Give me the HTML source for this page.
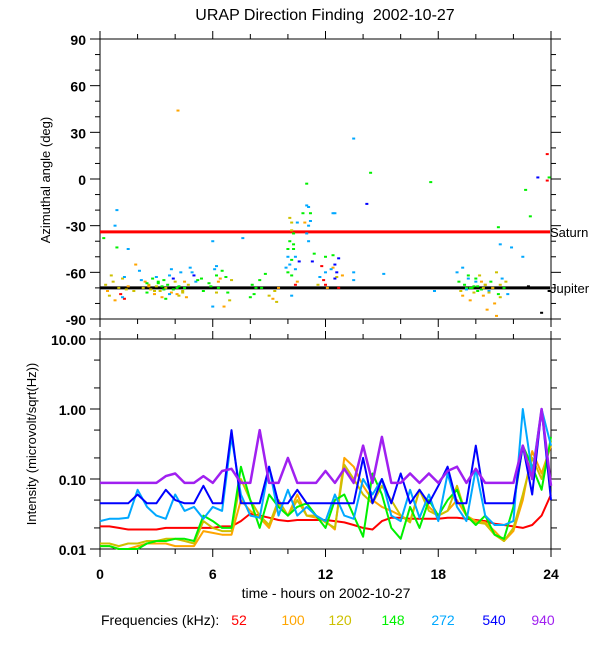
<!DOCTYPE html>
<html><head><meta charset="utf-8"><style>
body{margin:0;background:#fff;}
svg{display:block;font-family:"Liberation Sans",sans-serif;}
</style></head><body>
<svg id="chart" width="600" height="650" xmlns="http://www.w3.org/2000/svg">
<rect width="600" height="650" fill="#fff"/>
<text x="325" y="20" font-size="16" text-anchor="middle">URAP Direction Finding &#160;2002-10-27</text>
<g id="topPanel"></g><g id="botPanel"></g>
</svg>
<script>
const colors=["#ff0000","#ffa500","#cdc000","#00f000","#00a8ff","#0000ff","#a020f0"];
const freqLabels=["52","100","120","148","272","540","940"];
const angleTicks=[90,60,30,0,-30,-60,-90];
const intTicks=[10,1,0.1,0.01];
const intTickLabels=["10.00","1.00","0.10","0.01"];
const hourTicks=[0,6,12,18,24];
const saturnAngle=-34, jupiterAngle=-70;
// scatter points: time (h), angle (deg), frequency index
const ptT=[0.3,0.4,0.5,0.6,0.7,0.8,1.0,1.1,1.2,1.3,1.4,1.5,0.2,0.9,0.9,0.8,1.5,1.3,1.2,1.9,2.1,2.2,1.8,
2.3,2.4,2.5,2.6,2.7,2.8,2.9,3.0,3.1,3.2,3.3,3.4,3.5,3.6,3.7,3.8,3.9,4.0,4.1,4.2,4.3,4.4,4.5,4.6,4.7,2.5,2.9,3.3,3.7,4.1,4.5,3.0,3.4,3.8,4.2,2.6,3.5,4.4,3.1,3.9,
4.15,5.0,4.8,4.9,5.1,5.5,5.8,5.9,
6.0,6.0,6.1,6.2,6.2,6.3,6.4,6.2,6.3,6.5,6.7,6.8,6.9,6.6,7.0,5.4,5.2,7.6,
8.1,8.2,8.3,8.0,8.5,8.6,8.8,9.0,9.2,9.3,9.4,9.5,
10.1,10.2,10.2,10.3,10.1,10.0,10.0,10.1,10.2,10.3,10.3,10.4,10.5,10.4,10.2,10.5,10.4,10.2,9.9,10.0,
11.0,11.0,11.1,11.2,11.1,11.0,11.1,11.2,10.8,10.9,11.4,11.3,10.6,11.7,11.8,11.9,12.0,12.1,12.0,11.6,12.5,12.4,12.5,12.6,12.7,12.4,12.6,12.0,
13.5,14.4,14.2,17.6,12.4,23.8,23.3,23.8,23.9,22.65,22.9,21.2,21.3,21.9,22.5,12.3,12.5,12.7,12.9,13.5,13.5,15.1,17.8,
19.0,19.1,19.2,19.3,19.4,19.5,19.6,19.7,19.8,19.9,20.0,20.1,20.2,20.3,20.4,20.5,20.6,20.7,20.8,20.9,21.0,21.1,21.2,21.3,21.4,21.5,21.6,19.3,19.7,20.1,20.5,20.9,21.3,19.5,19.9,20.3,20.7,21.1,19.6,20.4,20.0,21.7,22.0,22.8,23.5,23.9];
const ptA=[-68,-72,-75,-62,-66,-78,-70,-74,-64,-77,-71,-69,-38,-44,-20,-30,-45,-63,-76,-55,-59,-65,-72,
-70,-66,-73,-68,-71,-64,-74,-69,-67,-72,-76,-65,-70,-68,-62,-73,-71,-66,-74,-69,-60,-72,-70,-76,-68,-67,-72,-69,-74,-70,-66,-63,-71,-58,-75,-69,-77,-73,-66,-64,
44,-62,-57,-60,-66,-72,-67,-69,
-40,-82,-58,-56,-62,-66,-64,-73,-70,-59,-63,-73,-78,-82,-65,-64,-65,-38,
-68,-74,-70,-76,-65,-70,-61,-75,-77,-72,-79,-70,
-25,-28,-33,-35,-40,-45,-50,-55,-52,-45,-42,-50,-28,-58,-62,-66,-68,-75,-57,-60,
-3,-17,-18,-27,-30,-35,-40,-22,-22,-28,-48,-53,-53,-63,-56,-65,-68,-70,-60,-68,-22,-49,-55,-60,-51,-57,-63,-50,
26,4,-16,-2,-22,16,1,-1,1,-7,-24,-31,-42,-44,-50,-58,-64,-70,-62,-60,-65,-61,-72,
-60,-66,-72,-75,-68,-70,-64,-78,-70,-73,-66,-69,-62,-71,-75,-68,-84,-72,-66,-70,-80,-60,-74,-68,-64,-70,-66,-57,-70,-72,-68,-70,-76,-71,-69,-66,-73,-88,-62,-70,-64,-74,-70,-69,-86,-72];
const ptF=[2,1,2,2,2,1,2,0,2,0,2,1,3,3,4,4,4,4,4,1,4,4,2,
2,1,3,2,2,3,1,2,3,2,1,3,2,3,4,1,3,2,1,3,4,2,3,1,2,3,2,3,4,3,1,4,3,4,2,1,3,2,3,5,
1,5,4,4,4,3,3,3,
4,4,4,4,3,1,1,2,3,3,3,3,2,1,2,3,3,4,
3,3,3,3,3,3,3,2,1,2,2,1,
2,2,2,3,3,3,4,4,3,3,3,4,4,4,3,1,0,4,4,3,
3,4,4,4,4,4,4,3,3,1,3,5,5,4,0,0,0,1,4,2,4,3,5,5,5,1,2,3,
4,3,5,3,4,0,5,0,3,3,3,3,4,4,4,4,5,0,1,4,4,4,4,
4,3,2,1,3,3,4,1,3,2,4,3,2,3,1,2,1,4,3,3,1,2,3,2,4,3,2,4,3,3,2,1,2,4,3,1,2,1,3,2,3,4];
// intensity time series, sampled every 0.5 h
const times=[];for(let i=0;i<=48;i++)times.push(i*0.5);
const f52=[.021,.021,.020,.019,.019,.019,.019,.020,.020,.020,.020,.020,.020,.021,.021,.025,.032,.030,.028,.026,.025,.026,.026,.026,.026,.025,.024,.022,.020,.019,.025,.028,.028,.027,.027,.027,.027,.028,.028,.027,.026,.025,.023,.022,.021,.020,.022,.030,.060];
const f100=[.011,.011,.010,.010,.011,.012,.012,.012,.011,.011,.011,.018,.017,.016,.016,.05,.035,.028,.020,.045,.030,.060,.030,.028,.025,.019,.20,.15,.08,.05,.04,.035,.030,.025,.07,.04,.03,.035,.05,.03,.025,.024,.018,.013,.018,.05,.25,.12,.30];
const f120=[.012,.012,.011,.012,.012,.013,.013,.014,.014,.013,.012,.025,.020,.018,.018,.10,.05,.030,.022,.050,.030,.050,.030,.030,.024,.020,.16,.10,.06,.045,.08,.05,.030,.024,.07,.035,.030,.035,.08,.03,.024,.023,.016,.013,.020,.06,.20,.10,.35];
const f148=[.011,.011,.010,.010,.010,.012,.013,.013,.014,.014,.013,.030,.025,.020,.020,.15,.05,.020,.06,.040,.030,.040,.045,.030,.020,.050,.06,.030,.015,.12,.06,.020,.014,.040,.02,.05,.03,.05,.07,.03,.022,.030,.016,.014,.040,.30,.15,.07,.40];
const f272=[.025,.027,.027,.028,.070,.040,.030,.027,.060,.035,.040,.027,.040,.035,.40,.060,.030,.028,.15,.030,.070,.030,.040,.030,.025,.060,.030,.027,.10,.060,.10,.030,.025,.070,.028,.06,.025,.12,.040,.025,.14,.030,.022,.022,.025,1.0,.12,1.0,.30];
const f540=[.045,.045,.045,.045,.060,.045,.045,.07,.05,.045,.045,.08,.045,.045,.50,.045,.045,.045,.15,.045,.045,.07,.045,.045,.045,.045,.045,.045,.20,.045,.10,.045,.12,.045,.07,.045,.08,.15,.045,.045,.30,.045,.045,.045,.045,.30,.06,1.0,.05];
const f940=[.088,.088,.088,.088,.088,.088,.088,.11,.12,.088,.088,.11,.088,.13,.14,.088,.088,.50,.088,.088,.20,.088,.088,.088,.13,.088,.14,.088,.30,.088,.40,.088,.088,.12,.088,.12,.088,.13,.15,.088,.14,.088,.088,.088,.088,.30,.10,1.0,.08];
const series=[f52,f100,f120,f148,f272,f540,f940];

const NS="http://www.w3.org/2000/svg";
const X0=100,X1=551;
const xs=t=>X0+t*(X1-X0)/24;
const TY0=39,TY1=319;
const ya=a=>TY0+(90-a)*(TY1-TY0)/180;
const BY0=339,BY1=549;
const yi=v=>BY1-(Math.log10(v)+2)*(BY1-BY0)/3;
function el(tag,attrs,parent){const e=document.createElementNS(NS,tag);for(const k in attrs)e.setAttribute(k,attrs[k]);parent.appendChild(e);return e;}
const topG=document.getElementById('topPanel'),botG=document.getElementById('botPanel');
const B="#000";
let f=el('rect',{x:X0,y:TY0,width:X1-X0,height:TY1-TY0,fill:'none',stroke:B,'stroke-width':1},topG);


f=el('rect',{x:X0,y:BY0,width:X1-X0,height:BY1-BY0,fill:'none',stroke:B,'stroke-width':1},botG);


for(let h=0;h<=24;h+=2){const x=xs(h);const L=(h%6===0)?8:5;
 el('line',{x1:x,x2:x,y1:TY0,y2:TY0-L,stroke:B},topG);el('line',{x1:x,x2:x,y1:TY1,y2:TY1+L,stroke:B},topG);
 el('line',{x1:x,x2:x,y1:BY0,y2:BY0-L,stroke:B},botG);el('line',{x1:x,x2:x,y1:BY1,y2:BY1+L,stroke:B},botG);}
hourTicks.forEach(h=>{const t=el('text',{x:xs(h),y:579,'font-size':14,'font-weight':'bold','text-anchor':'middle'},botG);t.textContent=h;
 
 });
for(let a=-90;a<=90;a+=10){const y=ya(a);const L=(a%30===0)?10:5;
 el('line',{x1:X0,x2:X0-L,y1:y,y2:y,stroke:B},topG);el('line',{x1:X1,x2:X1+L,y1:y,y2:y,stroke:B},topG);}
angleTicks.forEach(a=>{const t=el('text',{x:86,y:ya(a)+6,'font-size':14,'font-weight':'bold','text-anchor':'end'},topG);t.textContent=a;
 
 });
for(let d=-2;d<=1;d++){[1,2,5].forEach(m=>{const v=m*Math.pow(10,d);if(v>10)return;const y=yi(v);const L=m===1?10:6;
 el('line',{x1:X0,x2:X0-L,y1:y,y2:y,stroke:B},botG);el('line',{x1:X1,x2:X1+L,y1:y,y2:y,stroke:B},botG);});}
intTicks.forEach((v,i)=>{const t=el('text',{x:86,y:yi(v)+6,'font-size':14,'font-weight':'bold','text-anchor':'end'},botG);t.textContent=intTickLabels[i];
 
 });
let t=el('text',{transform:'translate(50,180) rotate(-90)','font-size':13,'text-anchor':'middle'},topG);t.textContent='Azimuthal angle (deg)';


t=el('text',{transform:'translate(36,444) rotate(-90)','font-size':13,'text-anchor':'middle'},botG);t.textContent='Intensity (microvolt/sqrt(Hz))';


t=el('text',{x:326,y:598,'font-size':14,'text-anchor':'middle'},botG);t.textContent='time - hours on 2002-10-27';


let ln=el('line',{x1:X0,x2:X1-1,y1:ya(saturnAngle),y2:ya(saturnAngle),stroke:'#ff0000','stroke-width':3},topG);


ln=el('line',{x1:X0,x2:X1-1,y1:ya(jupiterAngle),y2:ya(jupiterAngle),stroke:'#000','stroke-width':3},topG);


t=el('text',{x:550,y:ya(saturnAngle)+5,'font-size':13},topG);t.textContent='Saturn';


t=el('text',{x:550,y:ya(jupiterAngle)+5,'font-size':13},topG);t.textContent='Jupiter';


for(let i=0;i<ptT.length;i++){const r=el('rect',{x:xs(ptT[i])-1.5,y:ya(ptA[i])-1,width:3,height:2,fill:colors[ptF[i]]},topG);
 
 }
series.forEach((s,k)=>{const pts=s.map((v,i)=>xs(times[i]).toFixed(1)+','+yi(v).toFixed(1)).join(' ');
 const p=el('polyline',{points:pts,fill:'none',stroke:colors[k],'stroke-width':k===6?2.5:2,'stroke-linejoin':'round'},botG);
 
 });
t=el('text',{x:101,y:625,'font-size':14},botG);t.textContent='Frequencies (kHz):';


const legX=[239,293,340,393,443,494,543];
freqLabels.forEach((fl,k)=>{const e=el('text',{x:legX[k],y:625,'font-size':14,'text-anchor':'middle',fill:colors[k]},botG);e.textContent=fl;
 
 });
</script>
</body></html>
